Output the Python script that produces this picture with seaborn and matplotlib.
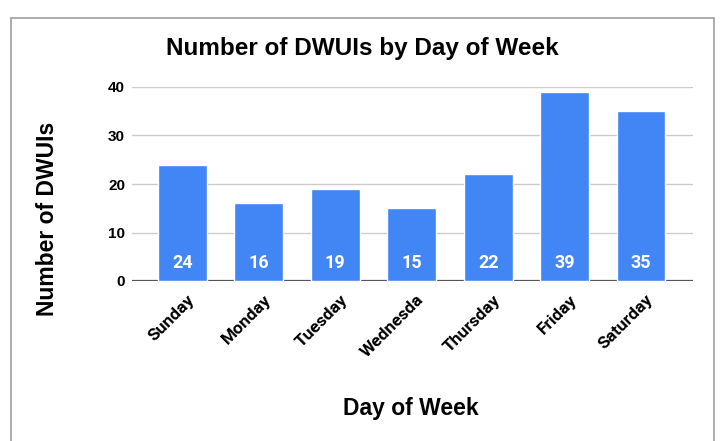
import seaborn as sns
import matplotlib.pyplot as plt
import matplotlib.transforms as mtransforms
from matplotlib.patches import Rectangle

# Data
days = ['Sunday', 'Monday', 'Tuesday', 'Wednesda', 'Thursday', 'Friday', 'Saturday']
dwui_counts = [24, 16, 19, 15, 22, 39, 35]
y_ticks = [0, 10, 20, 30, 40]

bar_color = '#4285F4'

sns.set_style('white')
plt.rcParams['font.family'] = ['Liberation Sans', 'DejaVu Sans']
plt.rcParams['text.color'] = 'black'
plt.rcParams['axes.labelcolor'] = 'black'
plt.rcParams['xtick.color'] = 'black'
plt.rcParams['ytick.color'] = 'black'

fig = plt.figure(figsize=(7.2, 4.41), dpi=100)
ax = fig.add_axes([132 / 720, 1 - 281 / 441, (693 - 132) / 720, 194 / 441])

sns.barplot(x=days, y=dwui_counts, color=bar_color, saturation=1, width=0.64, ax=ax, zorder=3)

# Value labels inside bars, near the bottom
for i, v in enumerate(dwui_counts):
    ax.text(i, 3.8, str(v), ha='center', va='center', color='white',
            fontsize=13, fontweight='bold', family='Roboto', zorder=4)

ax.set_xlim(-0.66, 6.68)
ax.set_ylim(0, 40)
ax.set_yticks(y_ticks)
ax.yaxis.grid(True, color='#cccccc', linewidth=1, zorder=0)
# baseline sits under the bars
ax.axhline(0, color='#555555', linewidth=1.6, zorder=2)
for s in ax.spines.values():
    s.set_visible(False)

ax.tick_params(axis='both', length=0)
ax.tick_params(axis='y', pad=5)
for lab in ax.get_yticklabels():
    lab.set_fontweight('bold')
    lab.set_fontsize(11)

offset = mtransforms.ScaledTranslation(7 / 72, 0, fig.dpi_scale_trans)
ax.set_xticks(range(len(days)))
ax.set_xticklabels(days, rotation=45, ha='right', va='center', rotation_mode='anchor',
                   fontsize=12.5, fontweight='bold', family='Roboto')
ax.tick_params(axis='x', pad=12)
for lab in ax.get_xticklabels():
    lab.set_transform(lab.get_transform() + offset)

ax.set_title('Number of DWUIs by Day of Week', fontsize=17.5, fontweight='bold',
             x=0.41, y=1.154, va='center')
ax.set_xlabel('Day of Week', fontsize=16.5, fontweight='bold', va='center')
ax.xaxis.set_label_coords(0.497, -0.655)
ax.set_ylabel('Number of DWUIs', fontsize=16.5, fontweight='bold', va='center')
ax.yaxis.set_label_coords(-0.15, 0.32)

# Card border around the chart
fig.patches.append(Rectangle((11 / 720, -0.05), (714 - 11) / 720, 1.05 - 18 / 441,
                             transform=fig.transFigure, fill=False,
                             edgecolor='#9e9e9e', linewidth=1.2, clip_on=False))

fig.savefig('out.png', dpi=100)
